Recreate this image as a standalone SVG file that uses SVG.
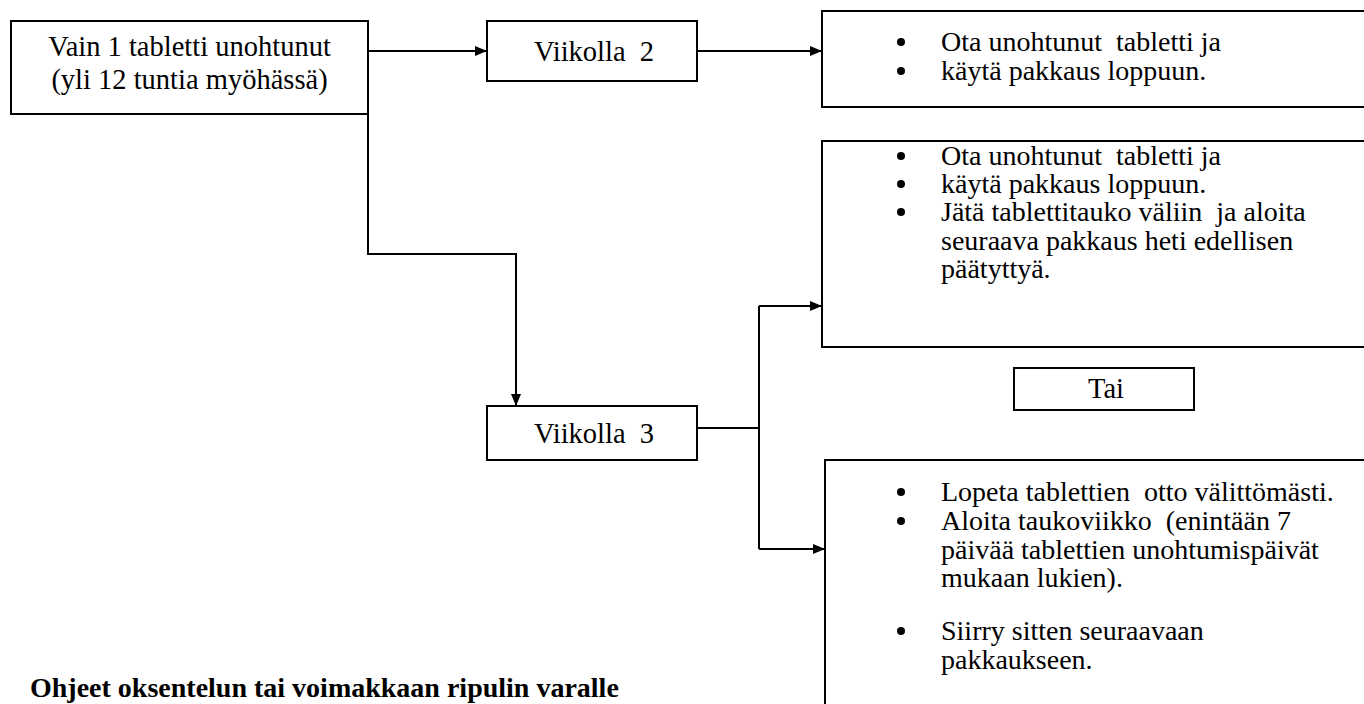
<svg xmlns="http://www.w3.org/2000/svg" width="1364" height="704" viewBox="0 0 1364 704">
  <defs>
    <marker id="arr" markerWidth="12" markerHeight="10" refX="11" refY="5" orient="auto" markerUnits="userSpaceOnUse">
      <path d="M0,0 L12,5 L0,10 Z" fill="#000"/>
    </marker>
    <style>
      .box { fill: #fff; stroke: #000; stroke-width: 2; }
      .t { font-family: "Liberation Serif", "Times New Roman", serif; fill: #000; white-space: pre; }
      .big { font-size: 28.5px; }
      .sm { font-size: 28px; }
      .c { text-anchor: middle; }
      .con { fill: none; stroke: #000; stroke-width: 2; }
      .bul { fill: #000; }
      .title { font-family: "Liberation Serif", "Times New Roman", serif; font-weight: bold; font-size: 28px; fill: #000; }
    </style>
  </defs>
  <rect width="1364" height="704" fill="#fff"/>

  <g id="connectors">
    <path class="con" d="M368,51 H486" marker-end="url(#arr)"/>
    <path class="con" d="M697,51 H821" marker-end="url(#arr)"/>
    <path class="con" d="M368,114 V254 H516 V405" marker-end="url(#arr)"/>
    <path class="con" d="M697,428 H759"/>
    <path class="con" d="M759,306 V549"/>
    <path class="con" d="M759,306 H821" marker-end="url(#arr)"/>
    <path class="con" d="M759,549 H824" marker-end="url(#arr)"/>
  </g>

  <g id="n-start">
    <rect class="box" x="11" y="21" width="357" height="93"/>
    <text class="t big c" x="189.5" y="56">Vain 1 tabletti unohtunut</text>
    <text class="t big c" x="189.5" y="89">(yli 12 tuntia myöhässä)</text>
  </g>

  <g id="n-week2">
    <rect class="box" x="487" y="21" width="210" height="60"/>
    <text class="t big c" x="594" y="61">Viikolla  2</text>
  </g>

  <g id="n-week2-action">
    <rect class="box" x="822" y="11" width="560" height="96"/>
    <circle class="bul" cx="901" cy="42" r="4"/>
    <text class="t sm" x="941" y="51">Ota unohtunut  tabletti ja</text>
    <circle class="bul" cx="901" cy="71" r="4"/>
    <text class="t sm" x="941" y="80">käytä pakkaus loppuun.</text>
  </g>

  <g id="n-week3-option1">
    <rect class="box" x="822" y="141" width="560" height="206"/>
    <circle class="bul" cx="901" cy="156" r="4"/>
    <text class="t sm" x="941" y="165">Ota unohtunut  tabletti ja</text>
    <circle class="bul" cx="901" cy="184" r="4"/>
    <text class="t sm" x="941" y="193">käytä pakkaus loppuun.</text>
    <circle class="bul" cx="901" cy="212" r="4"/>
    <text class="t sm" x="941" y="221">Jätä tablettitauko väliin  ja aloita</text>
    <text class="t sm" x="941" y="250">seuraava pakkaus heti edellisen</text>
    <text class="t sm" x="941" y="278">päätyttyä.</text>
  </g>

  <g id="n-or">
    <rect class="box" x="1014" y="368" width="180" height="42"/>
    <text class="t big c" x="1106" y="398">Tai</text>
  </g>

  <g id="n-week3">
    <rect class="box" x="487" y="406" width="210" height="54"/>
    <text class="t big c" x="594" y="443">Viikolla  3</text>
  </g>

  <g id="n-week3-option2">
    <rect class="box" x="825" y="460" width="560" height="260"/>
    <circle class="bul" cx="901" cy="492" r="4"/>
    <text class="t sm" x="941" y="501">Lopeta tablettien  otto välittömästi.</text>
    <circle class="bul" cx="901" cy="521" r="4"/>
    <text class="t sm" x="941" y="530">Aloita taukoviikko  (enintään 7</text>
    <text class="t sm" x="941" y="559">päivää tablettien unohtumispäivät</text>
    <text class="t sm" x="941" y="587">mukaan lukien).</text>
    <circle class="bul" cx="901" cy="631" r="4"/>
    <text class="t sm" x="941" y="640">Siirry sitten seuraavaan</text>
    <text class="t sm" x="941" y="669">pakkaukseen.</text>
  </g>

  <text class="title" x="30" y="697">Ohjeet oksentelun tai voimakkaan ripulin varalle</text>
</svg>
